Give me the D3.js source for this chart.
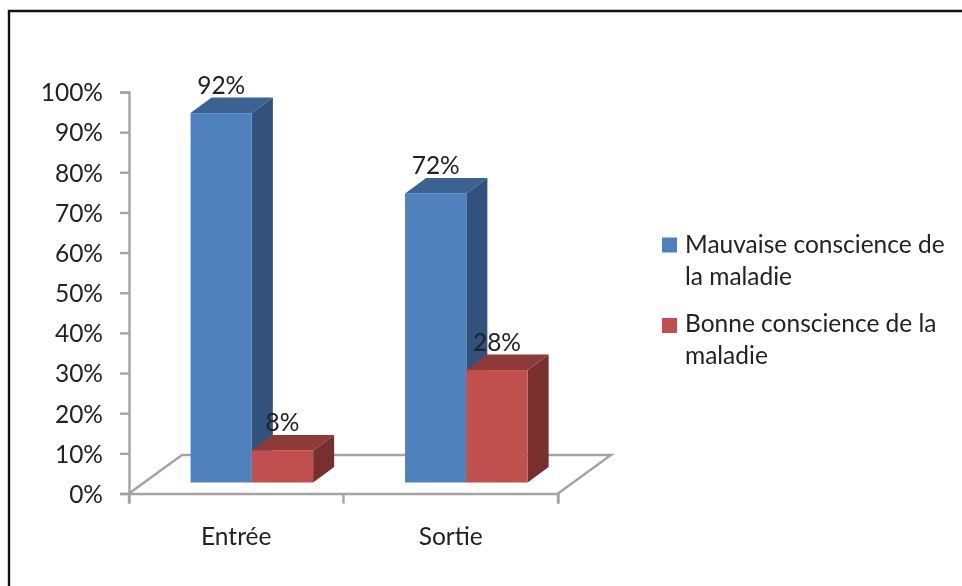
<!DOCTYPE html>
<html><head><meta charset="utf-8">
<script src="https://cdn.jsdelivr.net/npm/d3@7"></script>
<style>html,body{margin:0;background:#fff}svg{display:block;filter:blur(.5px)}text{font-family:Lato,"Open Sans",sans-serif;fill:#222}</style>
</head><body><svg id="c" width="962" height="586"></svg>
<script>
const categories = ["Entrée", "Sortie"];
const seriesNames = ["Mauvaise conscience de la maladie", "Bonne conscience de la maladie"];
const mauvaise = [92, 72];
const bonne = [8, 28];
const yTicks = [0,10,20,30,40,50,60,70,80,90,100];
const legendLines = [["Mauvaise conscience de","la maladie"],["Bonne conscience de la","maladie"]];
const colors = [{front:"#4f81bd",top:"#3c6291",side:"#30527c"},{front:"#c0504d",top:"#8e3a38",side:"#78302e"}];

const svg = d3.select("#c");
svg.append("path").attr("d","M9,586V11H962").attr("fill","none").attr("stroke","#111").attr("stroke-width",2.4);

const axisColor = "#a3a3a3";
const fs = "24.5px";
const y = d3.scaleLinear().domain([0,100]).range([493.5,92]);
const x = d3.scaleBand().domain(categories).range([129,558]);
const dx = 53, dy = -38.5;          // floor depth
const barDx = 21, barDy = -15.5;    // bar depth
const frontShift = 15.6, baseShift = -11;
const sub = d3.scaleBand().domain([0,1]).range([0,x.bandwidth()]).paddingOuter(.75).paddingInner(0);

// floor
svg.append("path").attr("fill","none").attr("stroke",axisColor).attr("stroke-width",2.4)
 .attr("d",`M${x.range()[0]},${y(0)}L${x.range()[0]+dx},${y(0)+dy}H${x.range()[1]+dx}L${x.range()[1]},${y(0)}`);

// axes
const yAxis = svg.append("g").attr("transform","translate(129,0)")
 .call(d3.axisLeft(y).tickValues(yTicks).tickFormat(d=>d+"%").tickSize(9).tickPadding(17));
const xAxis = svg.append("g").attr("transform",`translate(0,${y(0)})`)
 .call(d3.axisBottom(x).tickSize(10).tickFormat(d=>d).tickSizeOuter(10).tickPadding(25).tickValues(categories));
[yAxis,xAxis].forEach(a=>{a.selectAll("path,line").attr("stroke",axisColor).attr("stroke-width",2.4);a.attr("font-family",null);a.selectAll("text").style("font-size",fs).attr("fill",null);});
yAxis.selectAll(".tick text").attr("y",1);
xAxis.selectAll(".tick line").remove();
xAxis.selectAll("line.sep").data([0,1,2]).join("line").attr("class","sep")
 .attr("x1",i=>129+i*x.bandwidth()).attr("x2",i=>129+i*x.bandwidth()).attr("y1",0).attr("y2",10)
 .attr("stroke",axisColor).attr("stroke-width",2.4);
xAxis.selectAll(".tick text").attr("dy",0).attr("y",51);

// bars
const bars = [];
categories.forEach((c,i)=>[mauvaise[i],bonne[i]].forEach((v,s)=>bars.push({c,v,s})));
const order = bars.slice().sort((a,b)=>a.s-b.s);
const g = svg.append("g");
order.forEach(b=>{
  const xl = x(b.c)+frontShift+sub(b.s), w = sub.bandwidth(), col = colors[b.s];
  const t = y(b.v)+baseShift, base = y(0)+baseShift;
  g.append("path").attr("fill",col.side).attr("d",`M${xl+w},${t}l${barDx},${barDy}V${base+barDy}L${xl+w},${base}Z`);
  g.append("path").attr("fill",col.top).attr("d",`M${xl},${t}l${barDx},${barDy}H${xl+w+barDx}L${xl+w},${t}Z`);
  g.append("rect").attr("x",xl).attr("y",t).attr("width",w).attr("height",base-t).attr("fill",col.front);
});
order.forEach(b=>{
  const xl = x(b.c)+frontShift+sub(b.s), w = sub.bandwidth();
  svg.append("text").attr("x",xl+w/2).attr("y",y(b.v)+baseShift+barDy-3.5).attr("text-anchor","middle").style("font-size",fs).text(b.v+"%");
});

// legend
const legendTop = [237.5,318], lineY = [[253,285],[332,364]];
seriesNames.forEach((n,i)=>{
  const lg = svg.append("g").attr("class","legend");
  lg.append("rect").attr("x",662).attr("y",legendTop[i]).attr("width",15).attr("height",15).attr("fill",colors[i].front);
  legendLines[i].forEach((l,j)=>lg.append("text").attr("x",685).attr("y",lineY[i][j]).style("font-size",fs).text(l));
});
</script></body></html>
